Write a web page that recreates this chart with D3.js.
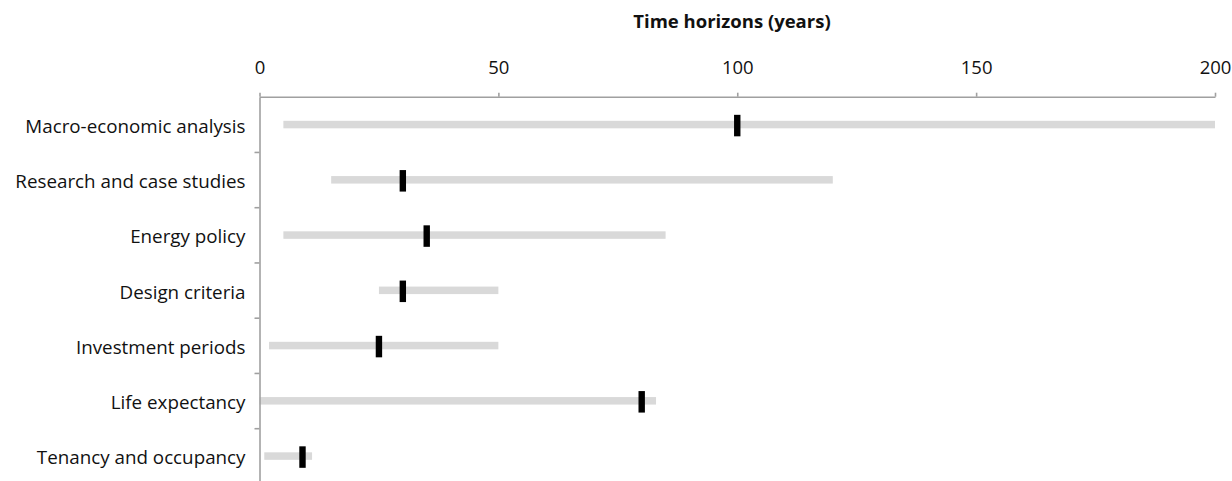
<!DOCTYPE html>
<html>
<head>
<meta charset="utf-8">
<script src="https://cdn.jsdelivr.net/npm/d3@7"></script>
<style>
  body { margin: 0; background: #fff; }
  text { font-family: 'Open Sans', 'Noto Sans', sans-serif; fill: #111; }
</style>
</head>
<body>
<div id="chart-area"></div>
<script>
var categories = ['Macro-economic analysis', 'Research and case studies', 'Energy policy',
    'Design criteria', 'Investment periods', 'Life expectancy', 'Tenancy and occupancy'];
var rangeStart = [5, 15, 5, 25, 2, 0, 1];
var rangeEnd = [200, 120, 85, 50, 50, 83, 11];
var typical = [100, 30, 35, 30, 25, 80, 9];
var xTicks = [0, 50, 100, 150, 200];

var margin = { top: 96.7, right: 17, bottom: 0, left: 259.5 };
var width = 1232 - margin.left - margin.right;
var height = 7 * 55.25;

var svg = d3.select('#chart-area')
    .append('svg')
    .attr('width', 1232)
    .attr('height', 481);

var g = svg.append('g')
    .attr('transform', 'translate(' + margin.left + ',' + margin.top + ')');

var data = categories.map(function (c, i) {
    return { name: c, start: rangeStart[i], end: rangeEnd[i], mid: typical[i] };
});

var x = d3.scaleLinear().domain([0, 200]).range([0, width]);
var y = d3.scaleBand().domain(categories).range([0, height]);
var yEdge = d3.scaleLinear().domain([0, 7]).range([0, height]);

// range bars
g.selectAll('.range')
    .data(data)
    .enter()
    .append('rect')
    .attr('class', 'range')
    .attr('x', function (d) { return x(d.start); })
    .attr('y', function (d) { return y(d.name) + y.bandwidth() / 2 - 3.5; })
    .attr('width', function (d) { return x(d.end) - x(d.start); })
    .attr('height', 7.5)
    .attr('fill', '#d9d9d9');

// typical value markers
g.selectAll('.mark')
    .data(data)
    .enter()
    .append('rect')
    .attr('class', 'mark')
    .attr('x', function (d) { return x(d.mid) - 3.2; })
    .attr('y', function (d) { return y(d.name) + y.bandwidth() / 2 - 9.5; })
    .attr('width', 6.4)
    .attr('height', 21.5)
    .attr('fill', '#000');

// x axis on top
var xAxisCall = d3.axisTop(x).tickValues(xTicks).tickSize(4).tickSizeOuter(0).tickPadding(19);
var xAxis = g.append('g').attr('class', 'x-axis').call(xAxisCall);
xAxis.selectAll('text').style('font-size', '18.5px');

// y axis boundary ticks
var yAxisCall = d3.axisLeft(yEdge).tickValues(d3.range(1, 8)).tickSize(5).tickSizeOuter(0).tickFormat('');
var yAxis = g.append('g').attr('class', 'y-axis').call(yAxisCall);

g.selectAll('.domain, .tick line')
    .attr('stroke', '#a0a0a0')
    .attr('stroke-width', 1.6);

// category labels
g.selectAll('.label')
    .data(data)
    .enter()
    .append('text')
    .attr('class', 'label')
    .attr('x', -14)
    .attr('y', function (d) { return y(d.name) + y.bandwidth() / 2 + 8.5; })
    .attr('text-anchor', 'end')
    .style('font-size', '18.8px')
    .text(function (d) { return d.name; });

// title
svg.append('text')
    .attr('x', 732)
    .attr('y', 28)
    .attr('text-anchor', 'middle')
    .style('font-size', '18.5px')
    .style('font-weight', 'bold')
    .text('Time horizons (years)');
</script>
</body>
</html>
